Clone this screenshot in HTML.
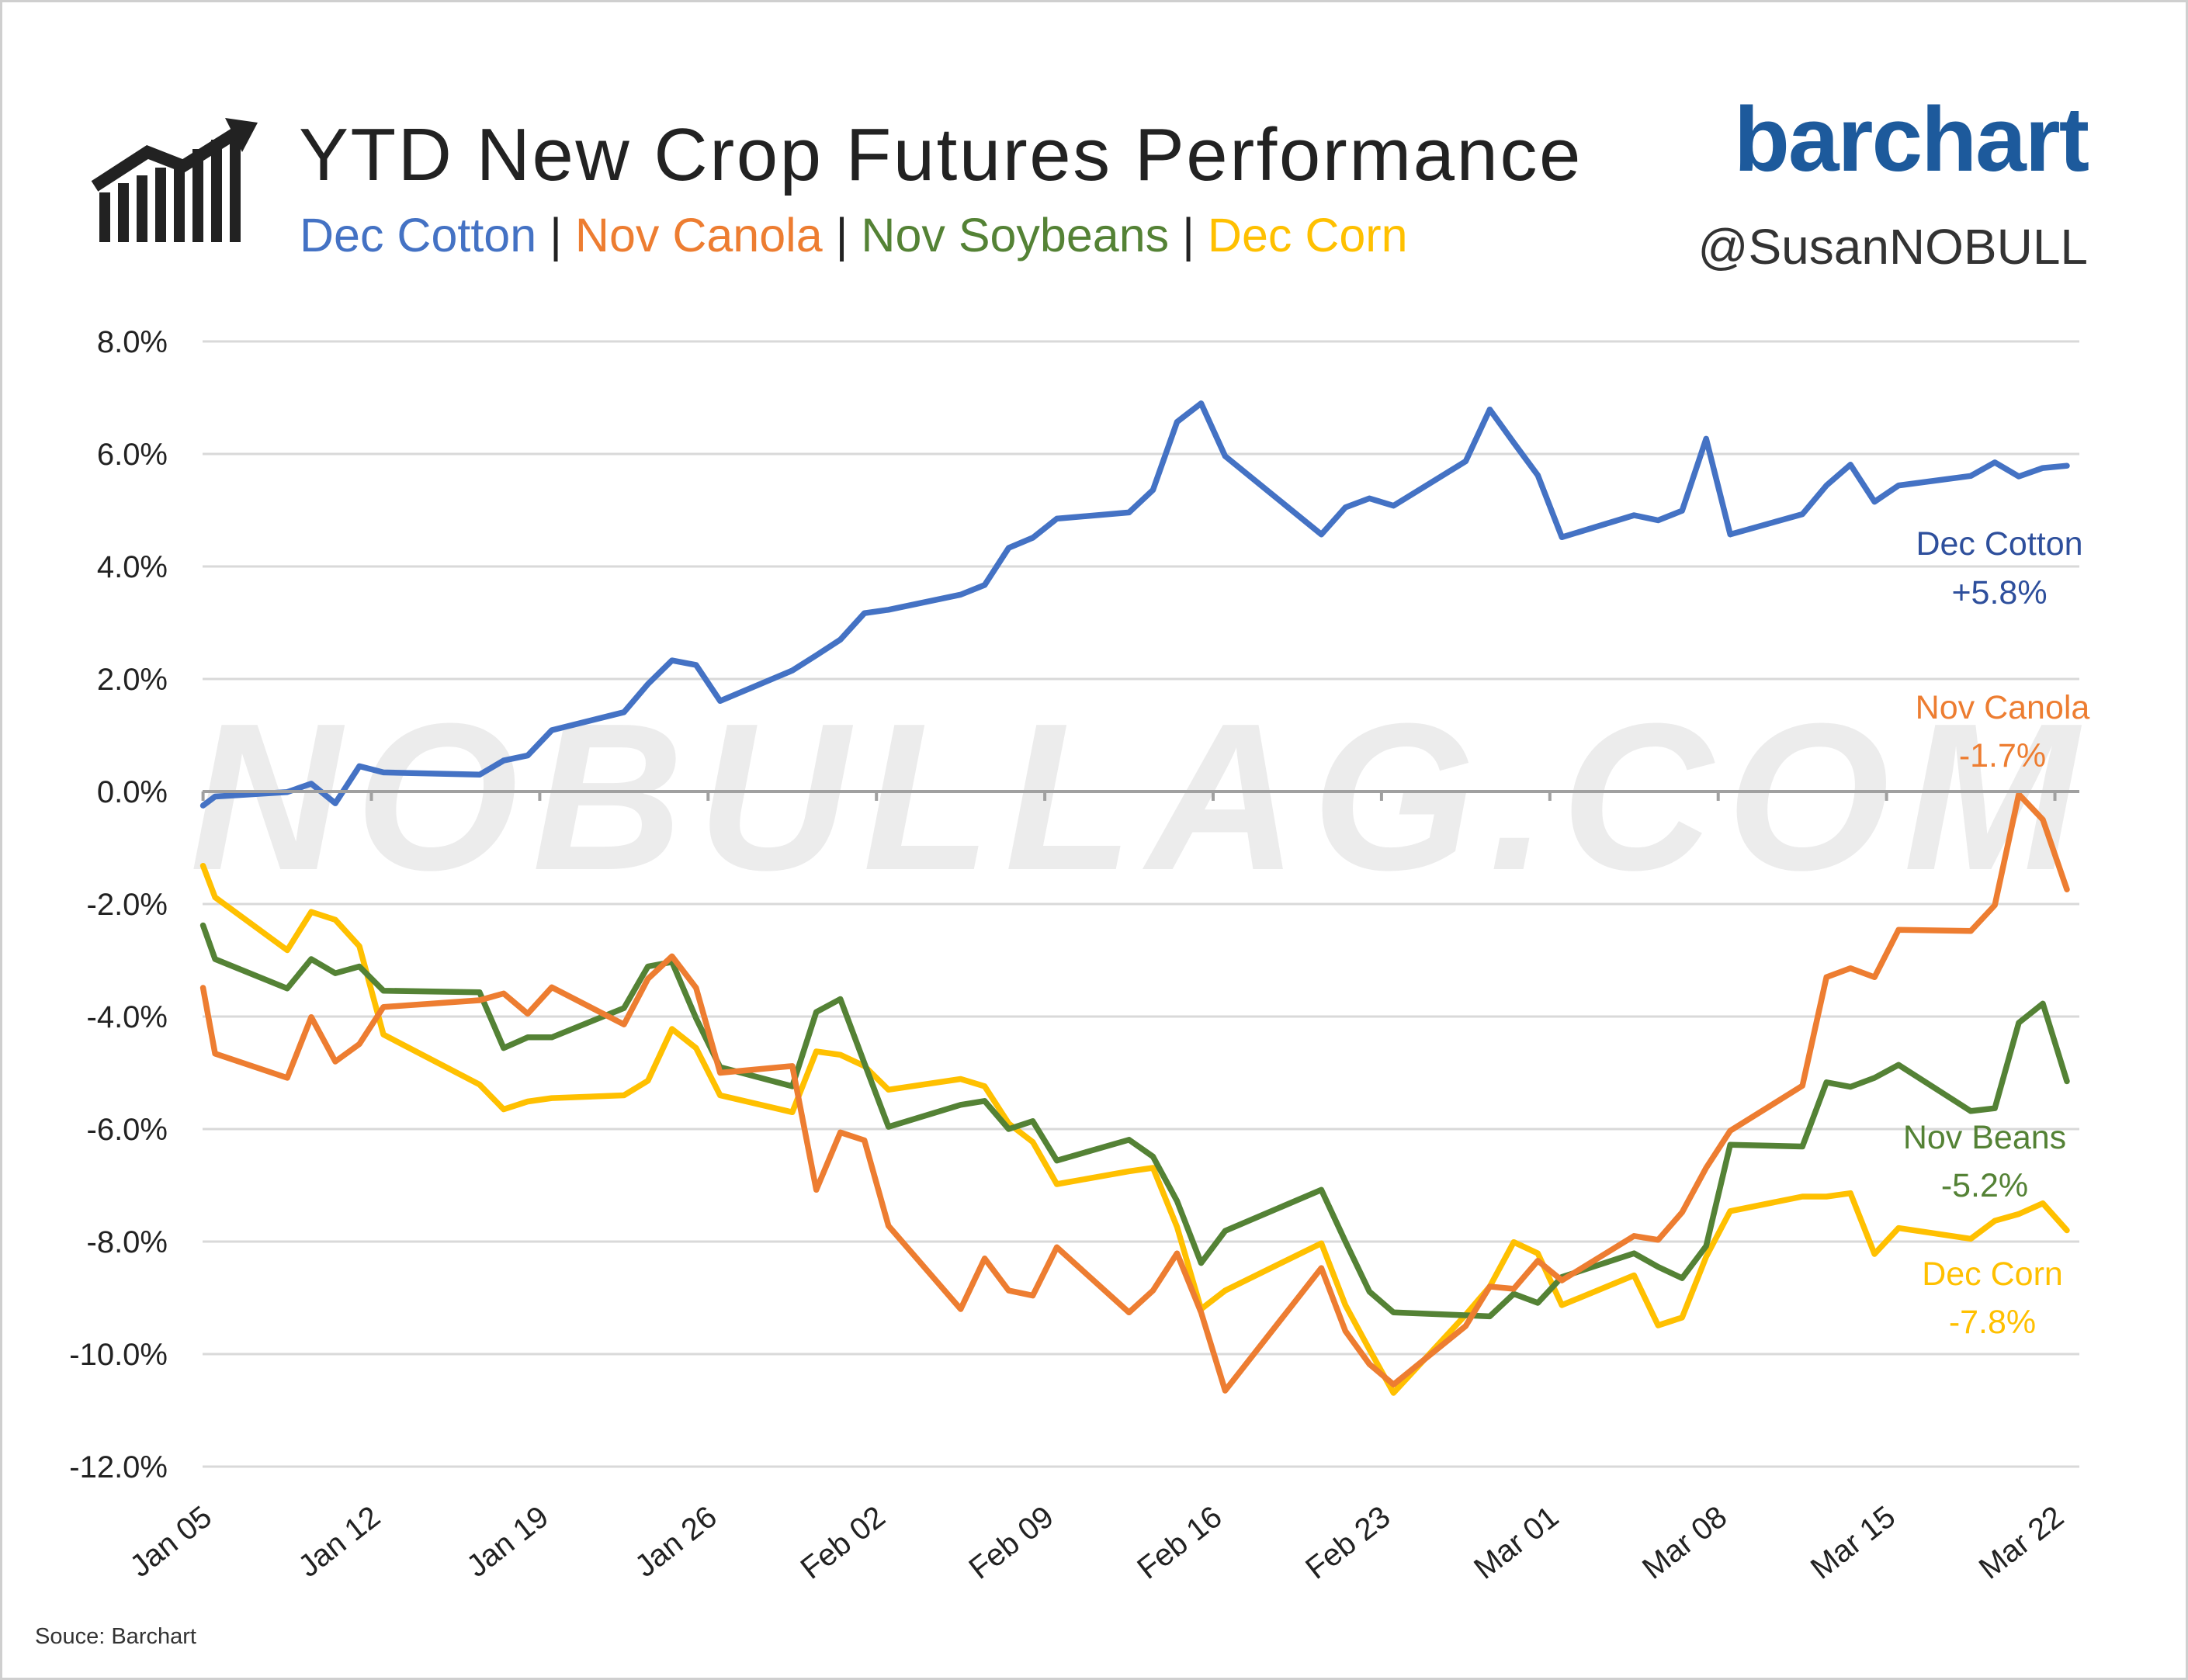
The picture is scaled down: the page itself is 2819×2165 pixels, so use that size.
<!DOCTYPE html>
<html><head><meta charset="utf-8"><style>
html,body{margin:0;padding:0;background:#fff}
#wrap{position:relative;width:2819px;height:2165px;background:#fff;overflow:hidden;font-family:"Liberation Sans",sans-serif}
</style></head><body>
<div id="wrap">
<svg id="svg" width="2819" height="2165" viewBox="0 0 2819 2165">
<rect x="1.5" y="1.5" width="2816" height="2162" fill="#fff" stroke="#cfcfcf" stroke-width="3"/>
<g fill="#222">
<rect x="128" y="248" width="14" height="64"/><rect x="152" y="236" width="14" height="76"/><rect x="176" y="226" width="14" height="86"/><rect x="200" y="216" width="14" height="96"/><rect x="224" y="206" width="14" height="106"/><rect x="248" y="192" width="14" height="120"/><rect x="272" y="180" width="14" height="132"/><rect x="296" y="168" width="14" height="144"/>
<polyline points="122,240 190,196 236,214 306,170" fill="none" stroke="#222" stroke-width="16"/>
<polygon points="290,152 332,158 312,196"/>
</g>
<text x="385" y="232" font-size="96" fill="#222" letter-spacing="2.5">YTD New Crop Futures Performance</text>
<text x="386" y="324" font-size="61"><tspan fill="#4472c4">Dec Cotton</tspan><tspan fill="#222"> | </tspan><tspan fill="#ed7d31">Nov Canola</tspan><tspan fill="#222"> | </tspan><tspan fill="#548235">Nov Soybeans</tspan><tspan fill="#222"> | </tspan><tspan fill="#ffc000">Dec Corn</tspan></text>
<text x="2690" y="220" font-size="118" font-weight="bold" fill="#1d5a9c" text-anchor="end" letter-spacing="-2">barchart</text>
<text x="2690" y="340" font-size="64" fill="#333" text-anchor="end">@SusanNOBULL</text>
<text x="1470" y="1120" font-size="270" font-weight="bold" font-style="italic" fill="#ececec" text-anchor="middle" letter-spacing="18">NOBULLAG.COM</text>
<g id="grid"></g><g id="series"></g><g id="axes"></g>
<g font-size="43" text-anchor="middle">
<text x="2576" y="715" fill="#2e4f9c">Dec Cotton</text>
<text x="2576" y="778" fill="#2e4f9c">+5.8%</text>
<text x="2580" y="926" fill="#ed7d31">Nov Canola</text>
<text x="2580" y="988" fill="#ed7d31">-1.7%</text>
<text x="2557" y="1480" fill="#548235">Nov Beans</text>
<text x="2557" y="1542" fill="#548235">-5.2%</text>
<text x="2567" y="1656" fill="#ffc000">Dec Corn</text>
<text x="2567" y="1718" fill="#ffc000">-7.8%</text>
</g>
<text x="45" y="2118" font-size="29" fill="#333">Souce: Barchart</text>
</svg>
</div>
<script>
const days=[0,0.5,3.5,4.5,5.5,6.5,7.5,11.5,12.5,13.5,14.5,17.5,18.5,19.5,20.5,21.5,24.5,25.5,26.5,27.5,28.5,31.5,32.5,33.5,34.5,35.5,38.5,39.5,40.5,41.5,42.5,46.5,47.5,48.5,49.5,52.5,53.5,54.5,55.5,56.5,59.5,60.5,61.5,62.5,63.5,66.5,67.5,68.5,69.5,70.5,73.5,74.5,75.5,76.5,77.5];
const cotton=[-0.25,-0.09,-0.01,0.14,-0.21,0.45,0.34,0.30,0.55,0.64,1.09,1.41,1.91,2.33,2.25,1.61,2.15,2.42,2.70,3.17,3.23,3.50,3.67,4.33,4.51,4.85,4.96,5.36,6.57,6.90,5.96,4.57,5.05,5.21,5.08,5.87,6.79,6.2,5.62,4.52,4.91,4.82,4.99,6.27,4.57,4.93,5.44,5.81,5.15,5.44,5.61,5.85,5.60,5.75,5.79];
const soybeans=[-2.38,-2.98,-3.50,-2.98,-3.23,-3.11,-3.54,-3.57,-4.56,-4.37,-4.37,-3.85,-3.11,-3.03,-4.03,-4.90,-5.24,-3.92,-3.69,-4.83,-5.96,-5.57,-5.50,-6.00,-5.86,-6.56,-6.19,-6.49,-7.28,-8.38,-7.81,-7.08,-8.0,-8.89,-9.26,-9.31,-9.33,-8.93,-9.09,-8.63,-8.21,-8.45,-8.65,-8.08,-6.28,-6.31,-5.17,-5.25,-5.09,-4.86,-5.68,-5.63,-4.11,-3.77,-5.15];
const corn=[-1.32,-1.88,-2.82,-2.14,-2.28,-2.75,-4.32,-5.21,-5.65,-5.51,-5.45,-5.40,-5.14,-4.22,-4.56,-5.40,-5.70,-4.62,-4.68,-4.88,-5.30,-5.11,-5.24,-5.90,-6.23,-6.98,-6.75,-6.69,-7.74,-9.20,-8.87,-8.03,-9.13,-9.92,-10.69,-9.3,-8.8,-8.01,-8.21,-9.13,-8.60,-9.49,-9.35,-8.27,-7.46,-7.20,-7.20,-7.14,-8.22,-7.76,-7.95,-7.63,-7.51,-7.32,-7.80];
const canola=[-3.49,-4.66,-5.09,-4.01,-4.80,-4.49,-3.83,-3.71,-3.59,-3.95,-3.48,-4.14,-3.33,-2.93,-3.49,-5.0,-4.88,-7.08,-6.06,-6.20,-7.72,-9.20,-8.30,-8.87,-8.96,-8.10,-9.26,-8.87,-8.21,-9.26,-10.65,-8.47,-9.59,-10.18,-10.54,-9.5,-8.80,-8.84,-8.34,-8.69,-7.90,-7.97,-7.48,-6.69,-6.03,-5.23,-3.30,-3.14,-3.30,-2.46,-2.48,-2.02,-0.05,-0.50,-1.74];
const yTicks=[8,6,4,2,0,-2,-4,-6,-8,-10,-12];
const xTickDays=[0,7,14,21,28,35,42,49,56,63,70,77];
const xTickLabels=["Jan 05","Jan 12","Jan 19","Jan 26","Feb 02","Feb 09","Feb 16","Feb 23","Mar 01","Mar 08","Mar 15","Mar 22"];

const NS="http://www.w3.org/2000/svg";
const X0=261.6,DX=30.986,Y0=1020,DY=72.5,XL=261,XR=2679;
function xs(d){return X0+d*DX;}
function ys(v){return Y0-v*DY;}
function mk(tag,attrs,parent){const e=document.createElementNS(NS,tag);for(const k in attrs)e.setAttribute(k,attrs[k]);parent.appendChild(e);return e;}
const grid=document.getElementById('grid'),axes=document.getElementById('axes'),ser=document.getElementById('series');
yTicks.forEach(t=>{
  if(t!==0){const l=mk('line',{x1:XL,x2:XR,y1:ys(t),y2:ys(t),stroke:'#d9d9d9','stroke-width':3},grid);
  
  }
  const tx=mk('text',{x:216,y:ys(t)+14,'font-size':40,fill:'#222','text-anchor':'end'},axes);
  tx.textContent=t.toFixed(1)+'%';
  
  
});
const zl=mk('line',{x1:XL,x2:XR,y1:ys(0),y2:ys(0),stroke:'#a0a0a0','stroke-width':4},axes);


xTickDays.forEach((d,i)=>{
  const tk=mk('line',{x1:xs(d),x2:xs(d),y1:ys(0),y2:ys(0)+12,stroke:'#a0a0a0','stroke-width':4},axes);
  
  
  const lx=xs(d)+14,ly=1960;
  const tx=mk('text',{x:lx,y:ly,'font-size':40,fill:'#222','text-anchor':'end',transform:`rotate(-38 ${lx} ${ly})`},axes);
  tx.textContent=xTickLabels[i];
  
  
});
function line(vals,color,name){
  const pts=vals.map((v,i)=>xs(days[i]).toFixed(1)+','+ys(v).toFixed(1)).join(' ');
  const p=mk('polyline',{points:pts,fill:'none',stroke:color,'stroke-width':7.5,'stroke-linejoin':'round','stroke-linecap':'round'},ser);
  
  
}
line(corn,'#ffc000','series-dec-corn');
line(soybeans,'#548235','series-nov-soybeans');
line(canola,'#ed7d31','series-nov-canola');
line(cotton,'#4472c4','series-dec-cotton');
</script>
</body></html>
